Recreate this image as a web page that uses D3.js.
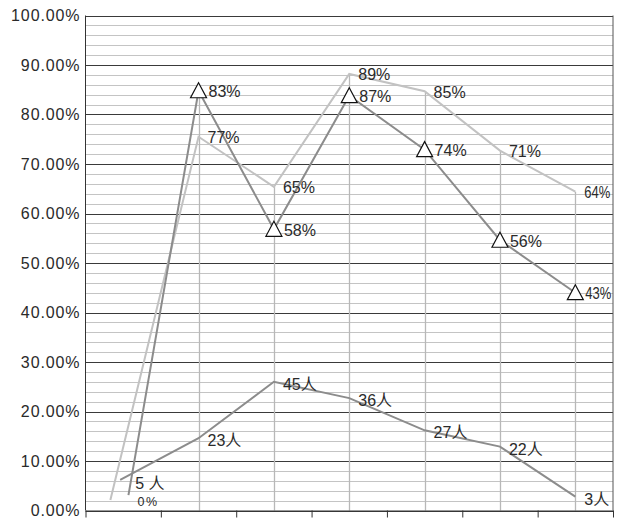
<!DOCTYPE html>
<html><head><meta charset="utf-8">
<script src="https://cdn.jsdelivr.net/npm/d3@7"></script>
<style>
html,body{margin:0;padding:0;background:#fff;}
svg{display:block;}
text{font-family:"Liberation Sans",Arial,"Noto Sans CJK SC",sans-serif;fill:#2a2a2a;}
</style></head>
<body>
<svg id="chart" width="620" height="518"></svg>
<script>
// ---- data ----
const categoryCount = 7;
const yTicks = [0, 0.1, 0.2, 0.3, 0.4, 0.5, 0.6, 0.7, 0.8, 0.9, 1.0];
const yTickLabels = ["0.00%","10.00%","20.00%","30.00%","40.00%","50.00%","60.00%","70.00%","80.00%","90.00%","100.00%"];

// light-gray series
const lightX = [0.33, 1.5, 2.5, 3.5, 4.5, 5.5, 6.5];
const lightValues = [0.021, 0.755, 0.654, 0.882, 0.847, 0.727, 0.644];
const lightLabels = ["", "77%", "65%", "89%", "85%", "71%", "64%"];

// dark-gray series with triangle markers
const darkX = [0.57, 1.5, 2.5, 3.5, 4.5, 5.5, 6.5];
const darkValues = [0.031, 0.848, 0.568, 0.838, 0.729, 0.546, 0.440];
const darkLabels = ["0%", "83%", "58%", "87%", "74%", "56%", "43%"];

// people-count series
const peopleX = [0.46, 1.5, 2.5, 3.5, 4.5, 5.5, 6.5];
const peopleValues = [0.062, 0.146, 0.260, 0.227, 0.162, 0.129, 0.028];
const peopleLabels = ["5 人", "23人", "45人", "36人", "27人", "22人", "3人"];

// ---- layout ----
const svg = d3.select("#chart");
const L = 85.5, R = 613, T = 15.5, B = 510.5;
const x = d3.scaleLinear().domain([0, categoryCount]).range([L, R]);
const y = d3.scaleLinear().domain([0, 1]).range([B, T]);

// minor gridlines every 2%
const minor = d3.range(0, 1.0001, 0.02).filter(v => Math.abs(Math.round(v*10) - v*10) > 1e-6);
svg.append("g").selectAll("line").data(minor).join("line")
  .attr("x1", L).attr("x2", R)
  .attr("y1", d => Math.round(y(d)) + 0.5).attr("y2", d => Math.round(y(d)) + 0.5)
  .attr("stroke", "#c4c4c4").attr("stroke-width", 1);

// major gridlines
svg.append("g").selectAll("line").data(yTicks).join("line")
  .attr("x1", L).attr("x2", R)
  .attr("y1", d => Math.round(y(d)) + 0.5).attr("y2", d => Math.round(y(d)) + 0.5)
  .attr("stroke", "#3a3a3a").attr("stroke-width", 1);

// drop lines from the highest point of each category (categories 1..6)
const dropIdx = d3.range(1, categoryCount);
svg.append("g").selectAll("line").data(dropIdx).join("line")
  .attr("x1", i => Math.round(x(lightX[i])) + 0.5).attr("x2", i => Math.round(x(lightX[i])) + 0.5)
  .attr("y1", i => y(Math.max(lightValues[i], darkValues[i])))
  .attr("y2", B)
  .attr("stroke", "#b8b8b8").attr("stroke-width", 1.3);

// axes frame
const frame = svg.append("g");
frame.append("line").attr("x1", L).attr("x2", L).attr("y1", T).attr("y2", B).attr("stroke", "#333");
frame.append("line").attr("x1", R).attr("x2", R).attr("y1", T).attr("y2", B).attr("stroke", "#555");

// bottom axis via d3
const xAxis = d3.axisBottom(x).tickValues(d3.range(0, categoryCount + 1)).tickFormat("").tickSizeInner(7).tickSizeOuter(0);
svg.append("g").attr("transform", `translate(0,${B})`).call(xAxis)
  .call(g => g.select(".domain").attr("stroke", "#333"))
  .call(g => g.selectAll(".tick line").attr("stroke", "#333"));

// left axis labels via d3
const yAxis = d3.axisLeft(y).tickValues(yTicks).tickFormat((d, i) => yTickLabels[i]).tickSize(0).tickPadding(5);
svg.append("g").attr("transform", `translate(${L},0)`).call(yAxis)
  .call(g => g.select(".domain").remove())
  .call(g => g.selectAll("text")
    .attr("font-size", 16).attr("fill", "#2a2a2a").attr("letter-spacing", "0.9px")
    .style("font-family", '"Liberation Sans",Arial,sans-serif'));

// series lines
const lineGen = (xs) => d3.line().x((d, i) => x(xs[i])).y(d => y(d));
svg.append("path").datum(lightValues).attr("d", lineGen(lightX))
  .attr("fill", "none").attr("stroke", "#c2c2c2").attr("stroke-width", 2);
svg.append("path").datum(peopleValues).attr("d", lineGen(peopleX))
  .attr("fill", "none").attr("stroke", "#8c8c8c").attr("stroke-width", 2);
svg.append("path").datum(darkValues).attr("d", lineGen(darkX))
  .attr("fill", "none").attr("stroke", "#8c8c8c").attr("stroke-width", 2);

// triangle markers (skip first point)
const tri = "M0,-9 L8,6 L-8,6 Z";
svg.append("g").selectAll("path").data(darkValues.slice(1)).join("path")
  .attr("d", tri)
  .attr("transform", (d, i) => `translate(${x(darkX[i + 1])},${y(d) + 1})`)
  .attr("fill", "#fff").attr("stroke", "#111").attr("stroke-width", 1.2);

// labels
function addLabels(xs, vals, labels, opts) {
  const g = svg.append("g");
  labels.forEach((t, i) => {
    if (!t) return;
    const o = (opts.special && opts.special(i)) || {};
    const el = g.append("text")
      .attr("x", x(xs[i]) + (o.dx !== undefined ? o.dx : opts.dx))
      .attr("y", y(vals[i]) + (o.dy !== undefined ? o.dy : opts.dy))
      .attr("font-size", o.size || 16)
      .text(t);
    if (o.len) el.attr("textLength", o.len).attr("lengthAdjust", "spacingAndGlyphs");
    if (o.ls) el.attr("letter-spacing", o.ls);
  });
}
addLabels(lightX, lightValues, lightLabels, {dx: 9, dy: 6.5,
  special: i => i === lightLabels.length - 1 ? {size: 17, len: 26} : null});
addLabels(darkX, darkValues, darkLabels, {dx: 10, dy: 6.5,
  special: i => i === 0 ? {size: 12.5, dx: 9, dy: 11, ls: "1.5px"} :
                (i === darkLabels.length - 1 ? {size: 17, len: 26} : null)});
addLabels(peopleX, peopleValues, peopleLabels, {dx: 9, dy: 8,
  special: i => i === 0 ? {dx: 15, dy: 9} : null});
</script>
</body></html>
